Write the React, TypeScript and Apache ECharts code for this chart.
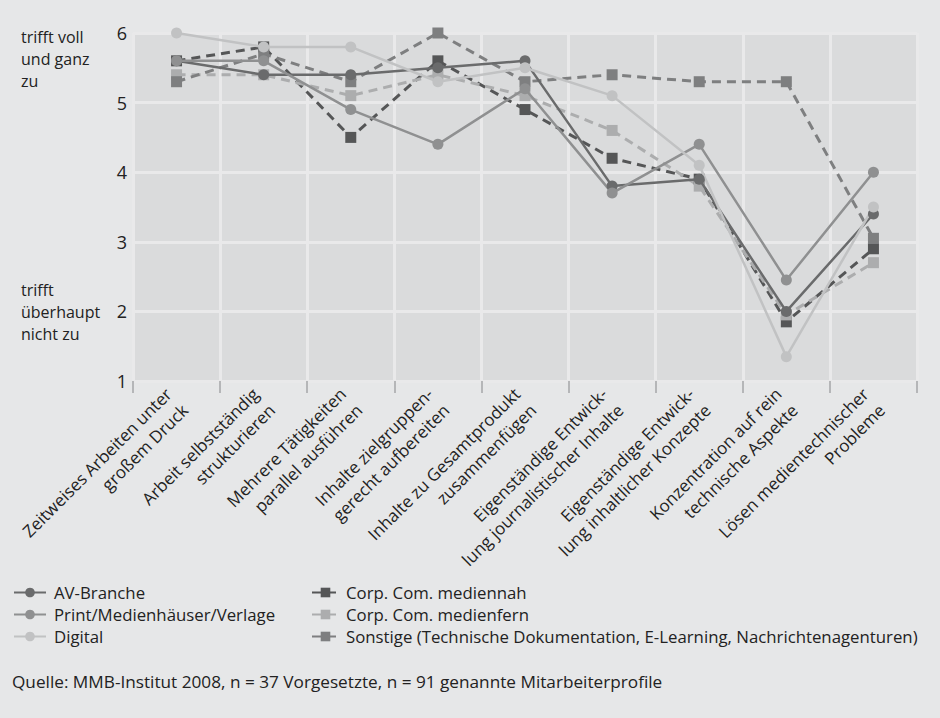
import React, { useEffect, useRef } from "react";
import * as echarts from "echarts";

const categories = [
  "Zeitweises Arbeiten unter\ngroßem Druck",
  "Arbeit selbstständig\nstrukturieren",
  "Mehrere Tätigkeiten\nparallel ausführen",
  "Inhalte zielgruppen-\ngerecht aufbereiten",
  "Inhalte zu Gesamtprodukt\nzusammenfügen",
  "Eigenständige Entwick-\nlung journalistischer Inhalte",
  "Eigenständige Entwick-\nlung inhaltlicher Konzepte",
  "Konzentration auf rein\ntechnische Aspekte",
  "Lösen medientechnischer\nProbleme",
];

const avBranche = [5.6, 5.4, 5.4, 5.5, 5.6, 3.8, 3.9, 2.0, 3.4];
const printVerlage = [5.6, 5.6, 4.9, 4.4, 5.2, 3.7, 4.4, 2.45, 4.0];
const digital = [6.0, 5.8, 5.8, 5.3, 5.5, 5.1, 4.1, 1.35, 3.5];
const mediennah = [5.6, 5.8, 4.5, 5.6, 4.9, 4.2, 3.9, 1.85, 2.9];
const medienfern = [5.4, 5.4, 5.1, 5.4, 5.1, 4.6, 3.8, 1.95, 2.7];
const sonstige = [5.3, 5.7, 5.3, 6.0, 5.3, 5.4, 5.3, 5.3, 3.05];

const seriesNames = [
  "AV-Branche",
  "Print/Medienhäuser/Verlage",
  "Digital",
  "Corp. Com. mediennah",
  "Corp. Com. medienfern",
  "Sonstige (Technische Dokumentation, E-Learning, Nachrichtenagenturen)",
];

const yTop = ["trifft voll", "und ganz", "zu"];
const yBottom = ["trifft", "überhaupt", "nicht zu"];
const sourceText =
  "Quelle: MMB-Institut 2008, n = 37 Vorgesetzte, n = 91 genannte Mitarbeiterprofile";

const FONT = "'Open Sans', 'Noto Sans', sans-serif";

export default function App() {
  const ref = useRef<HTMLDivElement>(null);

  useEffect(() => {
    document.body.style.margin = "0";
    const chart = echarts.init(ref.current!, undefined, { renderer: "svg" });

    const solid = (name: string, data: number[], color: string) => ({
      name,
      type: "line",
      data,
      z: 3,
      symbol: "circle",
      symbolSize: 11,
      itemStyle: { color },
      lineStyle: { color, width: 2.5, type: "solid" },
    });
    const dashed = (name: string, data: number[], color: string) => ({
      name,
      type: "line",
      data,
      z: 2,
      symbol: "rect",
      symbolSize: 11,
      itemStyle: { color },
      lineStyle: { color, width: 3, type: [9, 6] },
    });

    const legendBase = {
      orient: "vertical",
      top: 584,
      padding: 0,
      itemHeight: 12,
      itemGap: 5,
      textStyle: { fontFamily: FONT, fontSize: 16.8, lineHeight: 16, color: "#222" },
    };

    chart.setOption({
      animation: false,
      backgroundColor: "#e6e7e8",
      textStyle: { fontFamily: FONT },
      grid: {
        left: 133,
        right: 23,
        top: 33,
        bottom: 337,
        show: true,
        backgroundColor: "#dadbdc",
        borderWidth: 0,
      },
      legend: [
        {
          ...legendBase,
          left: 13,
          itemWidth: 32,
          textStyle: { ...legendBase.textStyle, padding: [0, 0, 0, 3] },
          data: seriesNames.slice(0, 3),
        },
        {
          ...legendBase,
          left: 311,
          itemWidth: 27,
          textStyle: { ...legendBase.textStyle, padding: [0, 0, 0, 2] },
          data: seriesNames.slice(3),
        },
      ],
      xAxis: {
        type: "category",
        data: categories,
        boundaryGap: true,
        axisLine: { show: false },
        axisTick: { show: true, length: 12, lineStyle: { color: "#b5b6b8", width: 2 } },
        splitLine: { show: true, lineStyle: { color: "#e9e9ea", width: 3 } },
        axisLabel: {
          rotate: 45,
          margin: 18,
          fontSize: 17,
          lineHeight: 23,
          color: "#222",
          fontFamily: FONT,
          interval: 0,
        },
      },
      yAxis: {
        type: "value",
        min: 1,
        max: 6,
        interval: 1,
        axisLine: { show: false },
        axisTick: { show: false },
        splitLine: { show: true, lineStyle: { color: "#e9e9ea", width: 3 } },
        axisLabel: { fontSize: 18, color: "#222", margin: 6, fontFamily: FONT },
      },
      graphic: [
        {
          type: "text",
          left: 21,
          top: 26,
          style: {
            text: yTop.join("\n"),
            fontSize: 16,
            lineHeight: 22,
            fill: "#222",
            fontFamily: FONT,
          },
        },
        {
          type: "text",
          left: 21,
          top: 279,
          style: {
            text: yBottom.join("\n"),
            fontSize: 16,
            lineHeight: 22,
            fill: "#222",
            fontFamily: FONT,
          },
        },
        {
          type: "text",
          left: 12,
          top: 673,
          style: { text: sourceText, fontSize: 17.2, fill: "#222", fontFamily: FONT },
        },
      ],
      series: [
        dashed(seriesNames[3], mediennah, "#555657"),
        dashed(seriesNames[4], medienfern, "#acadae"),
        dashed(seriesNames[5], sonstige, "#7e7f80"),
        solid(seriesNames[0], avBranche, "#6a6b6c"),
        solid(seriesNames[1], printVerlage, "#8f9091"),
        solid(seriesNames[2], digital, "#c1c2c3"),
      ],
    });

    return () => chart.dispose();
  }, []);

  return <div ref={ref} style={{ width: 940, height: 718 }} />;
}
